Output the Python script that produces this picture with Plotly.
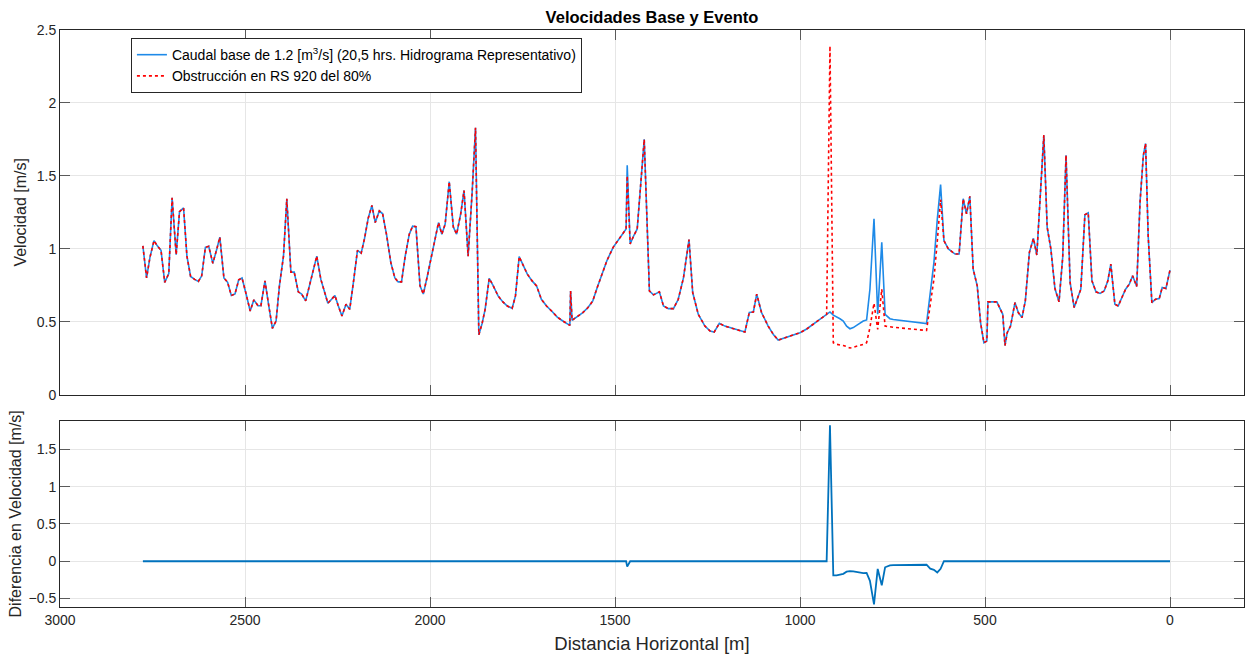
import plotly.graph_objects as go

# ---------------- data ----------------
distancia = [
    2776, 2766, 2757, 2746, 2737, 2727, 2717, 2706, 2697, 2686, 2677, 2666, 2657, 2647, 2636, 2626,
    2617, 2607, 2598, 2587, 2576, 2568, 2557, 2547, 2537, 2527, 2517, 2508, 2497, 2486, 2476, 2465,
    2457, 2446, 2437, 2426, 2416, 2407, 2396, 2387, 2376, 2367, 2356, 2347, 2336, 2327, 2317, 2306,
    2295, 2286, 2276, 2266, 2257, 2248, 2238, 2227, 2217, 2207, 2196, 2186, 2177, 2167, 2157, 2148,
    2137, 2128, 2117, 2106, 2095, 2086, 2077, 2067, 2056, 2047, 2038, 2027, 2018, 2007, 1996, 1986,
    1977, 1968, 1959, 1948, 1937, 1928, 1917, 1908, 1897, 1886, 1877, 1868, 1859, 1851, 1840, 1829,
    1816, 1803, 1791, 1778, 1769, 1759, 1748, 1737, 1724, 1712, 1699, 1685, 1670, 1656, 1641, 1631,
    1622, 1620, 1616, 1602, 1587, 1573, 1560, 1548, 1535, 1522, 1505, 1486, 1470, 1467, 1459, 1450,
    1440, 1421, 1407, 1396, 1380, 1369, 1356, 1342, 1329, 1315, 1300, 1290, 1275, 1257, 1243, 1232,
    1218, 1203, 1185, 1167, 1149, 1137, 1126, 1117, 1104, 1086, 1072, 1059, 1036, 1018, 1000, 982,
    964, 950, 937, 928, 919, 910, 901, 892, 883, 874, 865, 856, 847, 838, 829, 820,
    811, 800, 790, 779, 770, 757, 748, 658, 648, 638, 629, 620, 611, 599, 581, 570,
    559, 550, 541, 532, 521, 512, 503, 495, 492, 468, 452, 446, 440, 431, 419, 410,
    400, 391, 380, 369, 360, 351, 341, 332, 322, 311, 300, 290, 281, 270, 259, 251,
    241, 230, 221, 211, 200, 189, 178, 168, 160, 149, 140, 130, 120, 110, 101, 90,
    81, 72, 66, 59, 49, 39, 29, 21, 11, 0,
]

vel_base = [
    1.02, 0.80, 0.94, 1.056, 1.02, 0.99, 0.77, 0.83, 1.35, 0.96, 1.255, 1.28, 0.95, 0.81, 0.79, 0.776,
    0.815, 1.01, 1.017, 0.90, 1.0, 1.08, 0.80, 0.77, 0.68, 0.69, 0.787, 0.80, 0.69, 0.574, 0.65, 0.61,
    0.61, 0.78, 0.63, 0.455, 0.505, 0.746, 0.95, 1.343, 0.84, 0.84, 0.705, 0.69, 0.643, 0.735, 0.82, 0.95,
    0.79, 0.71, 0.627, 0.654, 0.68, 0.61, 0.54, 0.62, 0.585, 0.77, 0.99, 0.97, 1.07, 1.21, 1.297, 1.18,
    1.26, 1.24, 1.09, 0.907, 0.80, 0.773, 0.773, 0.95, 1.10, 1.155, 1.152, 0.746, 0.69, 0.815, 0.95, 1.067,
    1.18, 1.10, 1.17, 1.46, 1.15, 1.10, 1.24, 1.40, 0.95, 1.39, 1.83, 0.41, 0.49, 0.585, 0.797, 0.746,
    0.677, 0.636, 0.608, 0.592, 0.677, 0.946, 0.884, 0.826, 0.78, 0.746, 0.654, 0.608, 0.57, 0.532, 0.505, 0.487,
    0.475, 0.71, 0.51, 0.535, 0.562, 0.597, 0.643, 0.735, 0.826, 0.918, 1.01, 1.08, 1.136, 1.572, 1.033, 1.086,
    1.136, 1.75, 0.711, 0.684, 0.705, 0.608, 0.59, 0.59, 0.654, 0.80, 1.063, 0.70, 0.551, 0.47, 0.436, 0.429,
    0.489, 0.47, 0.455, 0.443, 0.429, 0.563, 0.567, 0.689, 0.563, 0.47, 0.413, 0.374, 0.395, 0.408, 0.425, 0.45,
    0.482, 0.508, 0.535, 0.55, 0.567, 0.545, 0.535, 0.52, 0.505, 0.47, 0.452, 0.46, 0.475, 0.49, 0.505, 0.512,
    0.723, 1.205, 0.551, 1.045, 0.551, 0.521, 0.515, 0.487, 0.70, 0.907, 1.20, 1.44, 1.056, 0.999, 0.964, 0.964,
    1.343, 1.24, 1.36, 0.861, 0.746, 0.494, 0.356, 0.367, 0.636, 0.636, 0.551, 0.337, 0.425, 0.47, 0.631, 0.563,
    0.528, 0.643, 0.976, 1.072, 0.957, 1.32, 1.779, 1.148, 0.999, 0.728, 0.636, 0.941, 1.641, 0.769, 0.597, 0.654,
    0.723, 1.233, 1.247, 0.78, 0.705, 0.694, 0.711, 0.78, 0.895, 0.62, 0.608, 0.666, 0.723, 0.758, 0.815, 0.742,
    1.32, 1.641, 1.722, 1.09, 0.631, 0.654, 0.659, 0.735, 0.728, 0.854,
]

vel_evento = [
    1.02, 0.80, 0.94, 1.056, 1.02, 0.99, 0.77, 0.83, 1.35, 0.96, 1.255, 1.28, 0.95, 0.81, 0.79, 0.776,
    0.815, 1.01, 1.017, 0.90, 1.0, 1.08, 0.80, 0.77, 0.68, 0.69, 0.787, 0.80, 0.69, 0.574, 0.65, 0.61,
    0.61, 0.78, 0.63, 0.455, 0.505, 0.746, 0.95, 1.343, 0.84, 0.84, 0.705, 0.69, 0.643, 0.735, 0.82, 0.95,
    0.79, 0.71, 0.627, 0.654, 0.68, 0.61, 0.54, 0.62, 0.585, 0.77, 0.99, 0.97, 1.07, 1.21, 1.297, 1.18,
    1.26, 1.24, 1.09, 0.907, 0.80, 0.773, 0.773, 0.95, 1.10, 1.155, 1.152, 0.746, 0.69, 0.815, 0.95, 1.067,
    1.18, 1.10, 1.17, 1.46, 1.15, 1.10, 1.24, 1.40, 0.95, 1.39, 1.83, 0.41, 0.49, 0.585, 0.797, 0.746,
    0.677, 0.636, 0.608, 0.592, 0.677, 0.946, 0.884, 0.826, 0.78, 0.746, 0.654, 0.608, 0.57, 0.532, 0.505, 0.487,
    0.475, 0.71, 0.51, 0.535, 0.562, 0.597, 0.643, 0.735, 0.826, 0.918, 1.01, 1.08, 1.136, 1.50, 1.033, 1.086,
    1.136, 1.75, 0.711, 0.684, 0.705, 0.608, 0.59, 0.59, 0.654, 0.80, 1.063, 0.70, 0.551, 0.47, 0.436, 0.429,
    0.489, 0.47, 0.455, 0.443, 0.429, 0.563, 0.567, 0.689, 0.563, 0.47, 0.413, 0.374, 0.395, 0.408, 0.425, 0.45,
    0.482, 0.508, 0.535, 0.55, 2.39, 0.356, 0.345, 0.342, 0.337, 0.33, 0.32, 0.325, 0.33, 0.337, 0.345, 0.356,
    0.46, 0.627, 0.448, 0.723, 0.47, 0.466, 0.462, 0.44, 0.60, 0.792, 1.05, 1.338, 1.056, 0.999, 0.964, 0.964,
    1.343, 1.24, 1.36, 0.861, 0.746, 0.494, 0.356, 0.367, 0.636, 0.636, 0.551, 0.337, 0.425, 0.47, 0.631, 0.563,
    0.528, 0.643, 0.976, 1.072, 0.957, 1.32, 1.779, 1.148, 0.999, 0.728, 0.636, 0.941, 1.641, 0.769, 0.597, 0.654,
    0.723, 1.233, 1.247, 0.78, 0.705, 0.694, 0.711, 0.78, 0.895, 0.62, 0.608, 0.666, 0.723, 0.758, 0.815, 0.742,
    1.32, 1.641, 1.722, 1.09, 0.631, 0.654, 0.659, 0.735, 0.728, 0.854,
]

# difference between event and base (what the lower panel plots)
diferencia = [e - b for e, b in zip(vel_evento, vel_base)]

nombre_base = "Caudal base de 1.2 [m<sup>3</sup>/s] (20,5 hrs. Hidrograma Representativo)"
nombre_evento = "Obstrucción en RS 920 del 80%"

FONT = "Liberation Sans, Arial, Helvetica, sans-serif"
AX = "#262626"
GRID = "#e6e6e6"

W, H = 1246, 656

fig = go.Figure()
fig.add_trace(go.Scatter(x=distancia, y=vel_base, mode="lines", name=nombre_base,
                         line=dict(color="#1e8ae8", width=1.6), xaxis="x", yaxis="y"))
fig.add_trace(go.Scatter(x=distancia, y=vel_evento, mode="lines", name=nombre_evento,
                         line=dict(color="#ff0000", width=1.6, dash="dot"), xaxis="x", yaxis="y"))
fig.add_trace(go.Scatter(x=distancia, y=diferencia, mode="lines", showlegend=False,
                         line=dict(color="#0072bd", width=1.8), xaxis="x2", yaxis="y2"))

common_axis = dict(showline=True, linecolor=AX, linewidth=1, mirror="ticks",
                   ticks="inside", ticklen=10, tickcolor="#5a5a5a", tickwidth=1,
                   showgrid=True, gridcolor=GRID, gridwidth=1, zeroline=False,
                   tickfont=dict(family=FONT, size=14, color=AX))

fig.update_layout(
    width=W, height=H,
    margin=dict(l=60, r=2, t=30, b=49),
    paper_bgcolor="white", plot_bgcolor="white",
    font=dict(family=FONT, color=AX),
    title=dict(text="<b>Velocidades Base y Evento</b>", x=0.5, xanchor="center",
               xref="paper", yref="container", y=1 - 17.5 / H, yanchor="middle",
               font=dict(family=FONT, size=16.5, color="black")),
    xaxis=dict(domain=[0, 1], anchor="y", range=[3000, -200], dtick=500, tick0=0,
               showticklabels=False, **common_axis),
    yaxis=dict(domain=[0.368, 1], anchor="x", range=[0, 2.5], dtick=0.5,
               title=dict(text="Velocidad [m/s]", font=dict(family=FONT, size=16, color=AX),
                          standoff=6),
               **common_axis),
    xaxis2=dict(domain=[0, 1], anchor="y2", range=[3000, -200], dtick=500, tick0=0,
                automargin=False,
                title=dict(text="Distancia Horizontal [m]", font=dict(family=FONT, size=18.5, color=AX),
                           standoff=10),
                **common_axis),
    yaxis2=dict(domain=[0, 0.3229], anchor="x2", range=[-0.613, 1.883], dtick=0.5, tick0=0,
                title=dict(text="Diferencia en Velocidad [m/s]",
                           font=dict(family=FONT, size=16, color=AX), standoff=2),
                **common_axis),
    legend=dict(x=0.0599, y=0.986, xanchor="left", yanchor="top",
                bgcolor="white", bordercolor=AX, borderwidth=1,
                font=dict(family=FONT, size=14, color="black"),
                tracegroupgap=0, itemwidth=30),
    showlegend=True,
)

# remove the browser's default 8px body margin so the figure fills the window
fig.write_html("out.html", config={"displayModeBar": False},
               post_script="document.body.style.margin='0px';")
